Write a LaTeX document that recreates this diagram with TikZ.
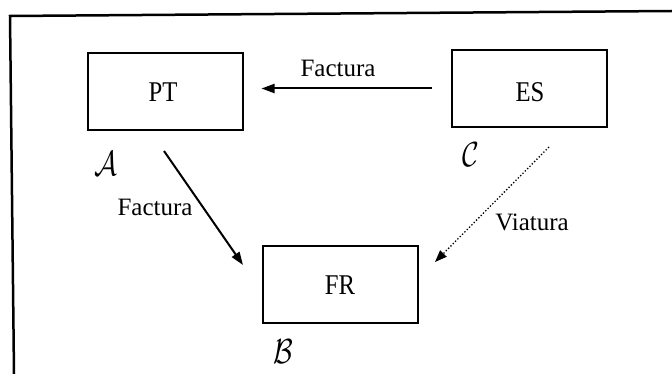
\documentclass[tikz,border=0pt]{standalone}
\usepackage{fontspec}
\setmainfont{Liberation Serif}
\usetikzlibrary{arrows.meta}
\begin{document}
\begin{tikzpicture}[x=1pt,y=-1pt,
  box/.style={draw,line width=2pt,minimum width=155pt,minimum height=77pt,inner sep=0pt},
  txt/.style={font=\fontsize{25}{29}\selectfont,inner sep=0pt},
  btxt/.style={font=\fontsize{26}{30}\selectfont,inner sep=0pt,yscale=1.1,xscale=0.95},
  ltr/.style={font=\fontsize{24}{28}\selectfont,inner sep=0pt,xscale=1.15,yscale=1.4},
  link/.style={line width=2pt,-{Triangle[length=13pt,width=9pt]}},
  dlink/.style={line width=1.3pt,dotted,-{Triangle[length=12pt,width=9pt]}}]
\useasboundingbox (0,0) rectangle (672,374);
% frame
\coordinate (f1) at (10,16);
\coordinate (f2) at (672,11);
\coordinate (f3) at (14,374);
\draw[line width=2.5pt] (f2) -- (f1) -- (f3);
% boxes
\node[box] (PT) at (165,92) {};
\node[box] (ES) at (529,88.5) {};
\node[box] (FR) at (340,284.5) {};
\node[btxt,anchor=base] (tPT) at (163,102) {PT};
\node[btxt,anchor=base] (tES) at (530,102) {ES};
\node[btxt,anchor=base] (tFR) at (340,294) {FR};
% letters
\node[ltr] (lA) at (106,164) {$\mathcal{A}$};
\node[ltr] (lC) at (471,155) {$\mathcal{C}$};
\node[ltr] (lB) at (283,352) {$\mathcal{B}$};
% arrows
\draw[link,shorten <=19pt,shorten >=18pt] (ES.west) -- (ES.west -| PT.east);
\coordinate (a1) at (164,151);
\coordinate (a2) at (243,265);
\draw[link] (a1) -- (a2);
\coordinate (c1) at (549,147);
\coordinate (c2) at (435,262);
\draw[dlink] (c1) -- (c2);
% labels
\node[txt,anchor=base] (f1l) at (338,77) {Factura};
\node[txt,anchor=base] (f2l) at (155,216) {Factura};
\node[txt,anchor=base] (vl) at (532,231) {Viatura};
\end{tikzpicture}
\end{document}
